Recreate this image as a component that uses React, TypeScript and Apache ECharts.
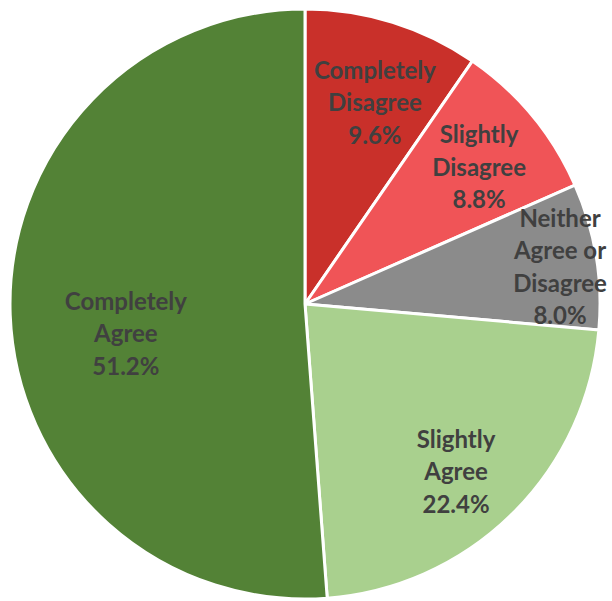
import React, { useEffect, useRef } from "react";
import * as echarts from "echarts";

const categories = [
  "Completely\nDisagree",
  "Slightly\nDisagree",
  "Neither\nAgree or\nDisagree",
  "Slightly\nAgree",
  "Completely\nAgree",
];
const percents = [9.6, 8.8, 8.0, 22.4, 51.2];
const colors = ["#C9302A", "#F05457", "#8B8B8B", "#A9D08E", "#538236"];
// label placement tuning: [fraction of radius, angle shift in degrees]
const labelPlace: [number, number][] = [
  [0.725, 1.8],
  [0.753, 1.2],
  [0.874, 0.9],
  [0.763, 2.5],
  [0.615, -7],
];

const CX = 305;
const CY = 304;
const R = 295;

export default function App() {
  const ref = useRef<HTMLDivElement>(null);
  useEffect(() => {
    if (!ref.current) return;
    const chart = echarts.init(ref.current, undefined, { renderer: "svg" });
    const total = percents.reduce((a, b) => a + b, 0);
    const mids: number[] = [];
    let acc = 0;
    percents.forEach((v) => {
      mids.push(((acc + v / 2) / total) * 360);
      acc += v;
    });
    const texts = percents.map((v, i) => {
      const [f, da] = labelPlace[i];
      const a = ((mids[i] + da) * Math.PI) / 180;
      return {
        type: "text",
        x: CX + f * R * Math.sin(a),
        y: CY - f * R * Math.cos(a),
        z: 100,
        style: {
          text: `${categories[i]}\n${v.toFixed(1)}%`,
          fill: "#404040",
          fontFamily: "Lato",
          fontWeight: "bold",
          fontSize: 24,
          lineHeight: 32.5,
          align: "center",
          verticalAlign: "middle",
        },
      };
    });
    chart.setOption({
      animation: false,
      backgroundColor: "#ffffff",
      graphic: texts,
      series: [
        {
          type: "pie",
          center: [CX, CY],
          radius: [0, R],
          startAngle: 90,
          clockwise: true,
          itemStyle: { borderColor: "#ffffff", borderWidth: 3 },
          label: { show: false },
          labelLine: { show: false },
          emphasis: { disabled: true },
          data: percents.map((v, i) => ({
            value: v,
            name: categories[i].replace(/\n/g, " "),
            itemStyle: { color: colors[i] },
          })),
        },
      ],
    });
    return () => chart.dispose();
  }, []);
  return (
    <div
      ref={ref}
      style={{ position: "fixed", left: 0, top: 0, width: 612, height: 601 }}
    />
  );
}
